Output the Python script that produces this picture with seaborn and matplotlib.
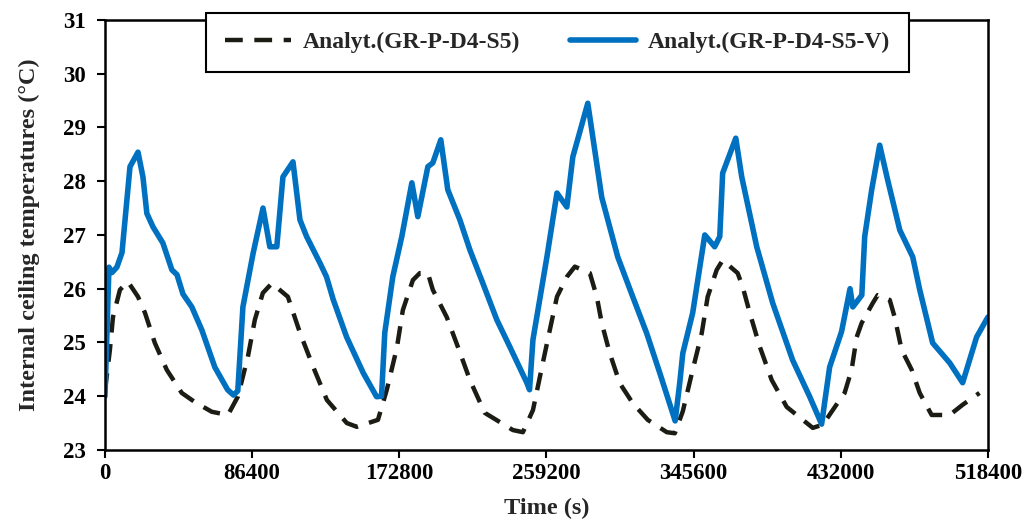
import matplotlib
matplotlib.use("Agg")
import matplotlib.pyplot as plt
import seaborn as sns
import pandas as pd
import numpy as np

# Series: Analyt.(GR-P-D4-S5-V) (solid blue)
t_v = [0, 2350, 4100, 7000, 10000, 14700, 19400, 22300, 24600, 28200, 34000, 39300, 42300,
       45800, 51000, 56900, 64500, 72000, 75500, 78000, 81000, 87000, 92800, 96800, 100900,
       104500, 110400, 114500, 118400, 126200, 130100, 134000, 141900, 151700, 159500, 162400,
       164300, 169000, 174300, 180200, 183700, 189600, 192500, 197200, 201300, 208400, 214300,
       221900, 230100, 237700, 247700, 249300, 251300, 259500, 265400, 271200, 274700, 283500,
       291700, 301100, 309900, 318100, 325800, 334800, 337500, 339300, 345100, 352200, 358000,
       361000, 362700, 370400, 373900, 382700, 392100, 403800, 413800, 420800, 425500, 432500,
       437500, 439100, 444400, 446100, 450200, 454900, 459600, 466700, 474300, 478400, 486000,
       496000, 503600, 511800, 518400]
y_v = [24.0, 26.4, 26.3, 26.4, 26.67, 28.27, 28.54, 28.08, 27.4, 27.15, 26.85, 26.35, 26.26,
       25.9, 25.66, 25.23, 24.54, 24.12, 24.02, 24.1, 25.66, 26.66, 27.5, 26.78, 26.78,
       28.08, 28.36, 27.28, 26.97, 26.48, 26.22, 25.8, 25.1, 24.43, 23.99, 24.0,
       25.18, 26.22, 26.97, 27.97, 27.34, 28.27, 28.34, 28.77, 27.84, 27.28, 26.72,
       26.1, 25.42, 24.92, 24.25, 24.12, 25.05, 26.59, 27.78, 27.52, 28.45, 29.45,
       27.7, 26.59, 25.85, 25.17, 24.43, 23.54, 24.25, 24.8, 25.55, 27.0, 26.78,
       26.97, 28.15, 28.8, 28.08, 26.78, 25.73, 24.67, 23.99, 23.48, 24.54, 25.2,
       26.0, 25.66, 25.88, 26.97, 27.84, 28.67, 28.02, 27.09, 26.59, 25.98, 24.99,
       24.62, 24.25, 25.1, 25.47]

# Series: Analyt.(GR-P-D4-S5) (dashed black)
t_s = [0, 2900, 4700, 8800, 13500, 19400, 23500, 29300, 36300, 45100, 52800, 62700, 72200,
       78000, 83900, 88000, 92700, 98000, 107400, 114500, 122200, 130300, 142000, 147900,
       160300, 165500, 171400, 174900, 180800, 184900, 189600, 192500, 200700, 207200, 214300,
       223000, 239500, 245400, 251300, 257100, 261200, 265400, 271200, 275900, 284700, 288800,
       291700, 296400, 302300, 309900, 318700, 329900, 334600, 339300, 345100, 350400, 353900,
       359200, 362700, 371500, 374500, 378600, 384500, 391500, 400300, 415600, 421500, 431400,
       434300, 438400, 441400, 444300, 450800, 453700, 460800, 463700, 467800, 473700, 478400,
       485400, 496000, 503600, 513500]
y_s = [24.1, 24.86, 25.47, 25.98, 26.13, 25.85, 25.55, 24.99, 24.49, 24.06, 23.89, 23.71, 23.65,
       23.99, 24.73, 25.42, 25.92, 26.1, 25.85, 25.18, 24.55, 23.93, 23.5, 23.43,
       23.56, 24.12, 24.9, 25.6, 26.16, 26.29, 26.29, 25.98, 25.47, 24.92, 24.3,
       23.69, 23.37, 23.33, 23.74, 24.62, 25.23, 25.85, 26.22, 26.41, 26.29, 25.85,
       25.36, 24.8, 24.24, 23.87, 23.56, 23.33, 23.31, 23.72, 24.49, 25.17, 25.85,
       26.35, 26.53, 26.29, 26.03, 25.55, 24.92, 24.3, 23.8, 23.41, 23.47, 23.93,
       24.06, 24.49, 25.1, 25.36, 25.73, 25.88, 25.79, 25.47, 24.86, 24.49, 24.06,
       23.65, 23.65, 23.84, 24.06]

label_s = "Analyt.(GR-P-D4-S5)"
label_v = "Analyt.(GR-P-D4-S5-V)"
xticks = [0, 86400, 172800, 259200, 345600, 432000, 518400]
yticks = [23, 24, 25, 26, 27, 28, 29, 30, 31]

sns.set_style("ticks")
plt.rcParams['font.family'] = ['Liberation Serif', 'DejaVu Serif']
plt.rcParams['font.weight'] = 'bold'
plt.rcParams['axes.labelweight'] = 'bold'

df_s = pd.DataFrame({"t": t_s, "y": y_s})
df_v = pd.DataFrame({"t": t_v, "y": y_v})

fig = plt.figure(figsize=(10.29, 5.25), dpi=100)
ax = fig.add_axes([0.102, 0.143, 0.858, 0.819])

sns.lineplot(data=df_s, x="t", y="y", ax=ax, color="#1c1c14", linewidth=3.2,
             linestyle=(0, (4.0, 2.6)), label=label_s, sort=False)
sns.lineplot(data=df_v, x="t", y="y", ax=ax, color="#0070C0", linewidth=4.0,
             label=label_v, sort=False)

ax.set_xlim(0, 518400)
ax.set_ylim(23, 31)
ax.set_xticks(xticks)
ax.set_xticklabels([str(v) for v in xticks])
ax.set_yticks(yticks)
ax.tick_params(axis='both', labelsize=16.5, width=1.5, length=6, direction='out', colors='black')
ax.tick_params(axis='y', pad=8)
for lab in ax.get_xticklabels() + ax.get_yticklabels():
    lab.set_fontweight('bold')
for s in ax.spines.values():
    s.set_visible(True)
    s.set_linewidth(1.8)
    s.set_color('black')

ax.set_xlabel("Time (s)", fontsize=17.5, fontweight='bold', labelpad=10)
ax.set_ylabel("Internal ceiling temperatures (°C)", fontsize=17.5, fontweight='bold', labelpad=16)

leg = ax.legend(loc='center', bbox_to_anchor=(0.542, 0.919), bbox_transform=fig.transFigure,
                ncol=2, frameon=True, fancybox=False, framealpha=1, edgecolor='black',
                prop={'family': 'Liberation Serif', 'weight': 'bold', 'size': 17},
                handlelength=2.8, handletextpad=0.5, columnspacing=2.1, borderpad=0.8,
                borderaxespad=0)
leg.get_frame().set_linewidth(1.5)
leg.set_zorder(10)

fig.savefig("out.png", dpi=100)
